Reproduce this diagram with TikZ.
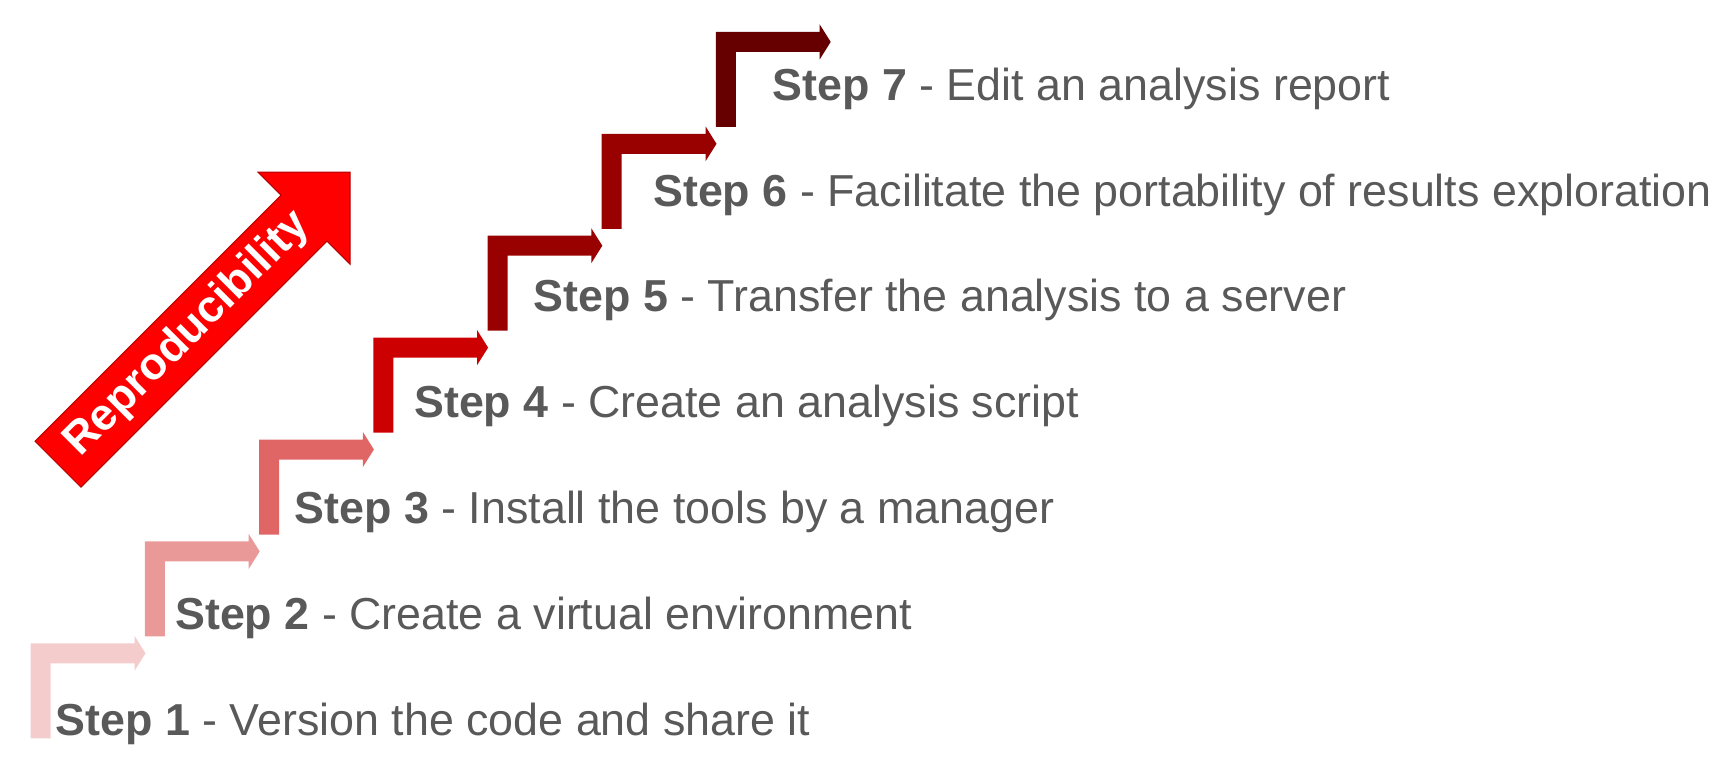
\documentclass[tikz,border=0pt]{standalone}
\usepackage{fontspec}
\setmainfont{Liberation Sans}
\definecolor{txtgray}{HTML}{595959}
\definecolor{stA}{HTML}{F4CCCC}
\definecolor{stB}{HTML}{EA9999}
\definecolor{stC}{HTML}{E06666}
\definecolor{stD}{HTML}{CC0000}
\definecolor{stE}{HTML}{990000}
\definecolor{stF}{HTML}{990000}
\definecolor{stG}{HTML}{660000}
\definecolor{bigred}{HTML}{FF0000}
\definecolor{bigedge}{HTML}{B00000}
\begin{document}
\begin{tikzpicture}[x=1pt,y=-1pt,
  steptext/.style={anchor=base west,inner sep=0pt,text=txtgray,font=\fontsize{44.8}{53}\selectfont}]
\useasboundingbox (0,0) rectangle (1729,764);
% stair arrows
\foreach \i/\c in {0/stA,1/stB,2/stC,3/stD,4/stE,5/stF,6/stG}{
  \pgfmathsetmacro\L{30.7+114.2*\i}
  \pgfmathsetmacro\T{643.3-101.9*\i}
  \fill[\c] (\L,\T) -- ++(103.8,0) -- ++(0,-7.5) -- ++(11,17.5) -- ++(-11,17.5)
     -- ++(0,-7.5) -- ++(-83.8,0) -- ++(0,75) -- ++(-20,0) -- cycle;
}
% step texts
\node[steptext] (s1) at (55.5,735) {\textbf{Step 1} - Version the code and share it};
\node[steptext] (s2) at (175,629.2) {\textbf{Step 2} - Create a virtual environment};
\node[steptext] (s3) at (294.5,523.4) {\textbf{Step 3} - Install the tools by a manager};
\node[steptext] (s4) at (414,417.6) {\textbf{Step 4} - Create an analysis script};
\node[steptext] (s5) at (533.5,311.8) {\textbf{Step 5} - Transfer the analysis to a server};
\node[steptext] (s6) at (653,206) {\textbf{Step 6} - Facilitate the portability of results exploration};
\node[steptext] (s7) at (772.5,100.2) {\textbf{Step 7} - Edit an analysis report};
% big arrow
\begin{scope}[shift={(58,464.2)},x={(0.7071pt,0.7071pt)},y={(-0.7071pt,0.7071pt)}]
  \draw[fill=bigred,draw=bigedge,line width=1pt,line join=miter]
    (0,-32.5) -- (348,-32.5) -- (348,-65) -- (413,0) -- (348,65) -- (348,32.5) -- (0,32.5) -- cycle;
  \node[rotate=45,text=white,inner sep=0pt,font=\bfseries\fontsize{44.8}{53}\selectfont] (repro) at (183.5,0) {Reproducibility};
\end{scope}
\end{tikzpicture}
\end{document}
